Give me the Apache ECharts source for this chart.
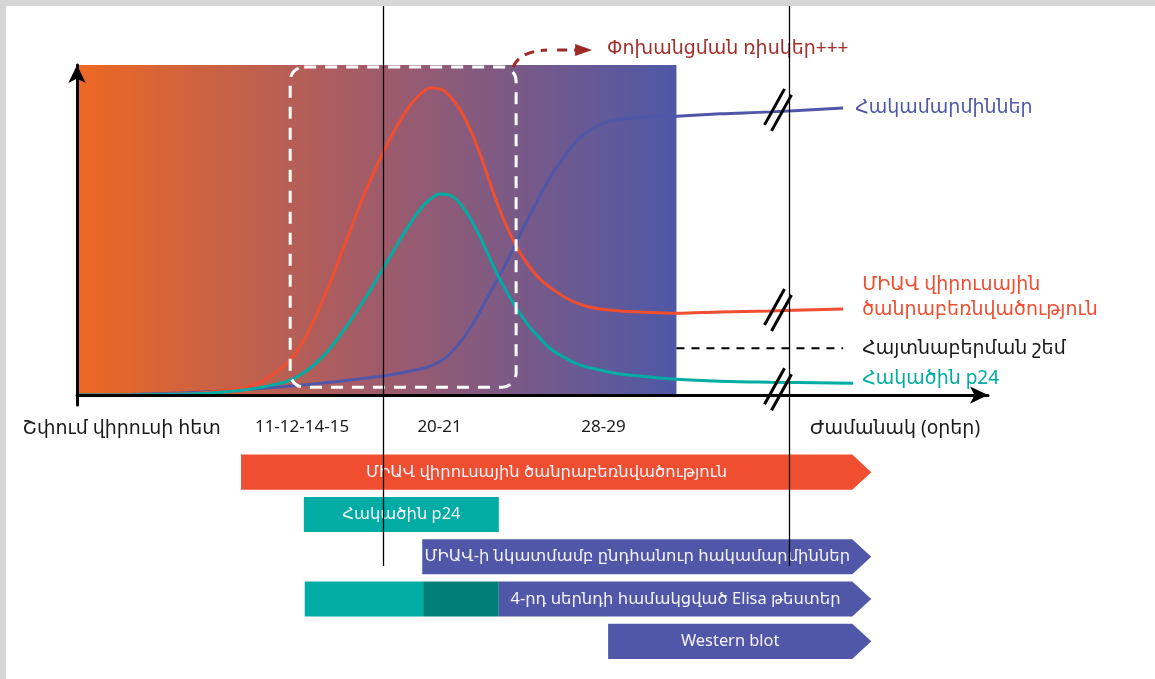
<!DOCTYPE html>
<html><head><meta charset="utf-8">
<script src="https://cdn.jsdelivr.net/npm/echarts@6/dist/echarts.min.js"></script>
<style>html,body{margin:0;padding:0;background:#fff}#c{width:1155px;height:679px}</style>
</head><body><div id="c"></div>
<script>
// ---- data ----
const xTickValues = [4.9, 24.7, 39.8, 57.8, 89.8];
const xTickLabels = ['Շփում վիրուսի հետ', '11-12-14-15', '20-21', '28-29', 'Ժամանակ (օրեր)'];

const antibodies = [[0,0],[13.5,0.9],[24.5,3.0],[33.6,5.8],[36.6,7.3],[38.8,8.8],[40.4,11.2],[42.0,15.8],[43.7,22.7],[45.3,30.9],[47.0,39.4],[48.6,48.5],[50.3,57.6],[51.9,65.8],[53.6,72.7],[55.2,77.9],[56.9,81.2],[58.5,83.0],[60.7,83.9],[65.8,84.5],[70.6,85.2],[76.1,85.8],[84.1,87.0]];
const viralLoad = [[0,0],[8.0,0.2],[13.5,0.6],[17.9,2.1],[19.0,2.7],[20.6,4.5],[22.3,7.9],[23.4,10.6],[24.5,14.8],[25.6,20.3],[26.7,27.0],[27.8,34.2],[28.9,42.1],[30.0,50.0],[31.1,57.9],[32.2,65.2],[33.3,71.8],[34.4,77.9],[35.5,83.3],[36.6,87.9],[37.7,91.2],[38.8,93.0],[39.9,92.7],[40.9,90.6],[42.0,86.7],[43.1,80.9],[44.2,73.3],[45.3,64.5],[46.4,56.1],[47.5,49.1],[48.6,43.3],[49.7,38.8],[50.8,35.2],[52.5,31.5],[54.1,28.8],[55.8,27.0],[57.4,26.1],[59.6,25.5],[61.8,25.2],[65.8,24.8],[70.6,25.2],[76.1,25.5],[84.1,26.1]];
const p24Antigen = [[0,0],[13.5,0.5],[19.0,1.8],[22.3,3.6],[23.4,4.5],[24.5,6.1],[25.6,8.2],[26.7,10.9],[27.8,14.2],[28.9,18.2],[30.0,22.4],[31.1,27.0],[32.2,31.8],[33.3,37.0],[34.4,42.1],[35.5,47.3],[36.6,52.1],[37.7,56.4],[38.8,59.4],[39.9,60.9],[40.9,60.6],[42.0,58.2],[43.1,53.9],[44.2,48.2],[45.3,41.5],[46.4,35.2],[47.5,29.7],[48.6,24.8],[49.7,20.6],[50.8,17.3],[51.9,14.2],[53.6,11.2],[55.2,9.1],[57.4,7.6],[59.6,6.4],[61.8,5.8],[65.8,4.8],[70.6,4.2],[76.1,3.9],[85.2,3.6]];
const detectionThreshold = [[65.8,14.2],[84.1,14.2]];
const breakMarks = [[76.95,86.4],[76.95,25.8],[76.95,1.8]];
const acutePhaseEnd = 65.8;
const riskWindow = [23.4, 48.2, 2.4, 99.4]; // x from, x to, y from, y to
const guideLines = [33.6, 78.2];

const seriesNames = ['Հակամարմիններ', 'ՄԻԱՎ վիրուսային\nծանրաբեռնվածություն', 'Հայտնաբերման շեմ', 'Հակածին p24'];
const riskLabel = 'Փոխանցման ռիսկեր+++';

const testNames = ['ՄԻԱՎ վիրուսային ծանրաբեռնվածություն', 'Հակածին p24', 'ՄԻԱՎ-ի նկատմամբ ընդհանուր հակամարմիններ', '4-րդ սերնդի համակցված Elisa թեստեր', 'Western blot'];
// [row, from, to, colour index, show label, arrow]
const testSegments = [
  [0, 18.0, 85.1, 0, 1, 1],
  [1, 24.9, 46.3, 1, 1, 0],
  [2, 37.9, 85.1, 2, 1, 1],
  [3, 25.0, 38.0, 1, 0, 0],
  [3, 38.0, 46.3, 3, 0, 0],
  [3, 46.3, 85.1, 2, 1, 1],
  [4, 58.3, 85.1, 2, 1, 1]
];

// ---- styles ----
const FONT = '"Noto Sans", "DejaVu Sans", sans-serif';
const RED = '#f04e30', TEAL = '#00aca4', BLUE = '#5057a8', DARKTEAL = '#007f78';
const barColors = [RED, TEAL, BLUE, DARKTEAL];

const chart = echarts.init(document.getElementById('c'), null, {renderer: 'canvas'});

function nearestLabel(v) {
  let bi = 0;
  for (let i = 1; i < xTickValues.length; i++) if (Math.abs(xTickValues[i] - v) < Math.abs(xTickValues[bi] - v)) bi = i;
  const t = xTickLabels[bi];
  return /^[0-9-]+$/.test(t) ? '{d|' + t + '}' : '{a|' + t + '}';
}

function renderBar(params, api) {
  const row = api.value(0), from = api.value(1), to = api.value(2);
  const ci = api.value(3), showLabel = api.value(4), arrow = api.value(5);
  const a = api.coord([from, row]), b = api.coord([to, row]);
  const h = api.size([0, 1])[1] * 0.83;
  const y0 = a[1] - h / 2, y1 = a[1] + h / 2;
  const tip = arrow ? 19 : 0;
  const pts = [[a[0], y0], [b[0], y0]];
  if (arrow) pts.push([b[0] + tip, a[1]]);
  pts.push([b[0], y1], [a[0], y1]);
  const children = [{type: 'polygon', shape: {points: pts}, style: {fill: barColors[ci]}}];
  if (showLabel) {
    children.push({type: 'text', x: (a[0] + b[0]) / 2, y: a[1], style: {text: testNames[row], fill: '#f4f4fa', fontSize: 16.4, fontFamily: FONT, align: 'center', verticalAlign: 'middle'}});
  }
  return {type: 'group', children};
}

function renderBreak(params, api) {
  const c = api.coord([api.value(0), api.value(1)]);
  const dx = 10, dy = 18;
  const mk = (ox, oy) => ({type: 'line', shape: {x1: c[0] + ox + dx, y1: c[1] + oy - dy, x2: c[0] + ox - dx, y2: c[1] + oy + dy}, style: {stroke: '#000', lineWidth: 3}});
  return {type: 'group', children: [mk(-3.5, -3), mk(3.5, 3)]};
}

const lineCommon = {type: 'line', smooth: 0.4, symbol: 'none', xAxisIndex: 0, yAxisIndex: 0, z: 3};
const axisArrow = {show: true, lineStyle: {color: '#000', width: 3}, symbol: ['none', 'arrow'], symbolSize: [13, 18]};

const option = {
  animation: false,
  backgroundColor: '#fff',
  grid: [
    {left: 77, right: 167, top: 65, bottom: 274},
    {left: 77, right: 167, top: 451, height: 211.5}
  ],
  xAxis: [
    {gridIndex: 0, type: 'value', min: 0, max: 100, z: 10,
     axisLine: axisArrow,
     axisTick: {show: false}, splitLine: {show: false},
     axisLabel: {customValues: xTickValues, formatter: nearestLabel, color: '#1a1a1a', margin: 14,
       rich: {a: {fontSize: 19, fontFamily: FONT, color: '#1a1a1a'}, d: {fontSize: 17, fontFamily: FONT, color: '#1a1a1a'}}}},
    {gridIndex: 1, type: 'value', min: 0, max: 100, show: false}
  ],
  yAxis: [
    {gridIndex: 0, type: 'value', min: -3, max: 100, z: 10,
     axisLine: axisArrow,
     axisTick: {show: false}, axisLabel: {show: false}, splitLine: {show: false}},
    {gridIndex: 1, type: 'category', data: testNames, inverse: true, show: false}
  ],
  series: [
    {type: 'line', data: [[0, 0]], symbol: 'none', lineStyle: {opacity: 0}, z: 1, silent: true,
     markArea: {silent: true, itemStyle: {color: new echarts.graphic.LinearGradient(0, 0, 1, 0, [
       {offset: 0, color: '#ee6823'}, {offset: 0.5, color: '#a05b6a'}, {offset: 1, color: '#4e58a7'}])},
       data: [[{coord: [0, 0]}, {coord: [acutePhaseEnd, 100]}]]}},
    Object.assign({}, lineCommon, {name: seriesNames[0], data: antibodies, lineStyle: {color: BLUE, width: 3},
      endLabel: {show: true, formatter: seriesNames[0], color: BLUE, fontSize: 19, fontFamily: FONT, distance: 12}}),
    Object.assign({}, lineCommon, {name: seriesNames[1], data: viralLoad, lineStyle: {color: RED, width: 3},
      endLabel: {show: true, formatter: seriesNames[1], color: RED, fontSize: 19, lineHeight: 25, fontFamily: FONT, distance: 19, offset: [0, -12]}}),
    Object.assign({}, lineCommon, {name: seriesNames[2], data: detectionThreshold, smooth: false, lineStyle: {color: '#000', width: 2, type: [8, 7]},
      endLabel: {show: true, formatter: seriesNames[2], color: '#1a1a1a', fontSize: 19, fontFamily: FONT, distance: 19}}),
    Object.assign({}, lineCommon, {name: seriesNames[3], data: p24Antigen, lineStyle: {color: TEAL, width: 3},
      endLabel: {show: true, formatter: seriesNames[3], color: TEAL, fontSize: 19, fontFamily: FONT, distance: 9, offset: [0, -5]}}),
    {type: 'custom', xAxisIndex: 0, yAxisIndex: 0, data: breakMarks, renderItem: renderBreak, z: 8, silent: true},
    {type: 'custom', xAxisIndex: 1, yAxisIndex: 1, data: testSegments, renderItem: renderBar, z: 4, silent: true}
  ]
};
chart.setOption(option);

// decorations positioned from the axes
const P = (x, y) => chart.convertToPixel({gridIndex: 0}, [x, y]);
const tl = P(riskWindow[0], riskWindow[3]), br = P(riskWindow[1], riskWindow[2]);
const cx = br[0] - 3, cy = tl[1];
const RISK = '#9e2a26';
const graphics = [
  {type: 'rect', shape: {x: 0, y: 0, width: 1155, height: 6}, style: {fill: '#d6d6d6'}, z: 20},
  {type: 'rect', shape: {x: 0, y: 0, width: 6, height: 679}, style: {fill: '#d6d6d6'}, z: 20},
  {type: 'rect', shape: {x: tl[0], y: tl[1], width: br[0] - tl[0], height: br[1] - tl[1], r: 14},
   style: {fill: 'none', stroke: '#fff', lineWidth: 3, lineDash: [12, 9]}, z: 6},
  {type: 'bezierCurve', shape: {x1: cx, y1: cy, cpx1: cx + 7, cpy1: cy - 16, x2: cx + 34, y2: cy - 17},
   style: {fill: 'none', stroke: RISK, lineWidth: 3, lineDash: [10, 7]}, z: 6},
  {type: 'line', shape: {x1: cx + 44, y1: cy - 17, x2: cx + 64, y2: cy - 17},
   style: {stroke: RISK, lineWidth: 3, lineDash: [10, 7]}, z: 6},
  {type: 'polygon', shape: {points: [[cx + 62, cy - 23], [cx + 79, cy - 17], [cx + 62, cy - 11]]}, style: {fill: RISK}, z: 6},
  {type: 'text', x: cx + 94, y: cy - 18, style: {text: riskLabel, fill: '#a3302b', fontSize: 19, fontFamily: FONT, verticalAlign: 'middle'}, z: 6}
];
guideLines.forEach(g => {
  const px = Math.round(P(g, 0)[0]) + 0.5;
  graphics.push({type: 'line', shape: {x1: px, y1: 6, x2: px, y2: 566}, style: {stroke: '#000', lineWidth: 1.3}, z: 15});
});
chart.setOption({graphic: graphics});
</script></body></html>
